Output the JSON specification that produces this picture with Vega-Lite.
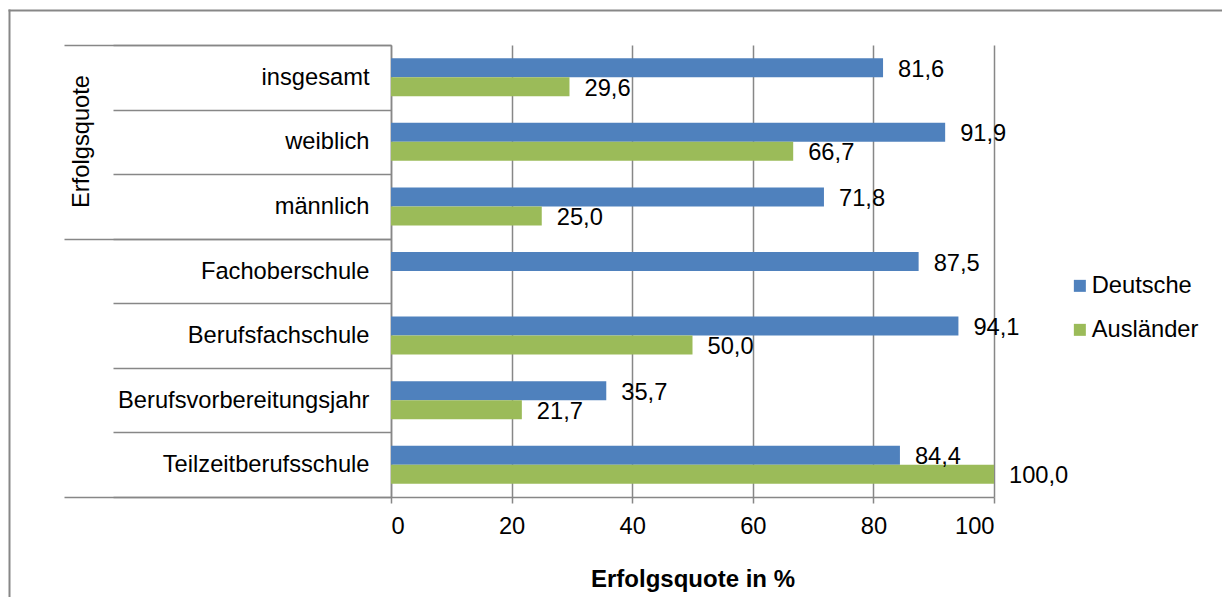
{
  "$schema": "https://vega.github.io/schema/vega-lite/v6.json",
  "width": 603,
  "height": 452,
  "autosize": "none",
  "padding": {"left": 391, "top": 45, "right": 228, "bottom": 100},
  "background": "white",
  "config": {
    "locale": {"number": {"decimal": ",", "thousands": ".", "grouping": [3], "currency": ["", " €"]}},
    "font": "Liberation Sans",
    "view": {"stroke": null}
  },
  "data": {
    "values": [
      {"Kategorie": "insgesamt", "Gruppe": "Deutsche", "Quote": 81.6},
      {"Kategorie": "insgesamt", "Gruppe": "Ausländer", "Quote": 29.6},
      {"Kategorie": "weiblich", "Gruppe": "Deutsche", "Quote": 91.9},
      {"Kategorie": "weiblich", "Gruppe": "Ausländer", "Quote": 66.7},
      {"Kategorie": "männlich", "Gruppe": "Deutsche", "Quote": 71.8},
      {"Kategorie": "männlich", "Gruppe": "Ausländer", "Quote": 25.0},
      {"Kategorie": "Fachoberschule", "Gruppe": "Deutsche", "Quote": 87.5},
      {"Kategorie": "Berufsfachschule", "Gruppe": "Deutsche", "Quote": 94.1},
      {"Kategorie": "Berufsfachschule", "Gruppe": "Ausländer", "Quote": 50.0},
      {"Kategorie": "Berufsvorbereitungsjahr", "Gruppe": "Deutsche", "Quote": 35.7},
      {"Kategorie": "Berufsvorbereitungsjahr", "Gruppe": "Ausländer", "Quote": 21.7},
      {"Kategorie": "Teilzeitberufsschule", "Gruppe": "Deutsche", "Quote": 84.4},
      {"Kategorie": "Teilzeitberufsschule", "Gruppe": "Ausländer", "Quote": 100.0}
    ]
  },
  "layer": [
    {
      "encoding": {
        "y": {
          "field": "Kategorie", "type": "nominal",
          "scale": {
            "domain": ["insgesamt", "weiblich", "männlich", "Fachoberschule", "Berufsfachschule", "Berufsvorbereitungsjahr", "Teilzeitberufsschule"],
            "paddingInner": 0, "paddingOuter": 0
          },
          "axis": {
            "orient": "left", "title": null, "grid": false,
            "tickBand": "extent", "tickSize": 278, "tickColor": "#878787", "tickWidth": 1.5,
            "domainColor": "#878787", "domainWidth": 1.5,
            "labelPadding": -256, "labelAlign": "right", "labelFontSize": 23.7, "labelColor": "black", "labelLimit": 500
          }
        },
        "yOffset": {
          "field": "Gruppe", "type": "nominal",
          "scale": {"domain": ["Deutsche", "Ausländer"], "paddingInner": 0, "paddingOuter": 0.7}
        },
        "x": {
          "field": "Quote", "type": "quantitative",
          "scale": {"domain": [0, 100], "nice": false},
          "axis": {
            "orient": "bottom", "values": [0, 20, 40, 60, 80, 100], "format": "d",
            "grid": true, "gridColor": "#878787", "gridWidth": 1.5,
            "tickColor": "#878787", "tickWidth": 1.5, "tickSize": 6,
            "domainColor": "#878787", "domainWidth": 1.5,
            "labelFontSize": 23.7, "labelColor": "black", "labelPadding": 11,
            "title": "Erfolgsquote in %", "titleFontSize": 24, "titleFontWeight": "bold", "titleColor": "black", "titlePadding": 30
          }
        }
      },
      "layer": [
        {
          "mark": {"type": "bar"},
          "encoding": {
            "color": {
              "field": "Gruppe", "type": "nominal",
              "scale": {"domain": ["Deutsche", "Ausländer"], "range": ["#4F81BD", "#9BBB59"]},
              "legend": {
                "title": null, "orient": "none", "legendX": 677, "legendY": 229,
                "symbolType": "square", "symbolSize": 144, "symbolStrokeWidth": 0,
                "labelFontSize": 23.7, "labelColor": "black", "labelOffset": 0, "rowPadding": 19
              }
            }
          }
        },
        {
          "mark": {"type": "text", "align": "left", "baseline": "middle", "dx": 15, "dy": 2, "fontSize": 23.7, "color": "black"},
          "encoding": {"text": {"field": "Quote", "type": "quantitative", "format": ".1f"}}
        }
      ]
    },
    {
      "mark": {"type": "point", "opacity": 0},
      "encoding": {
        "y": {
          "datum": 0, "type": "quantitative",
          "scale": {"domain": [0, 7], "nice": false},
          "axis": {
            "orient": "left", "values": [0, 4, 7], "tickSize": 327, "tickColor": "#878787", "tickWidth": 1.5,
            "labels": false, "domain": false, "grid": false,
            "title": "Erfolgsquote", "titleFontSize": 23.7, "titleFontWeight": "normal", "titleColor": "black",
            "titleAngle": -90, "titleX": -303, "titleY": 96, "titleBaseline": "alphabetic", "titleAlign": "center"
          }
        }
      }
    },
    {
      "mark": {"type": "point", "opacity": 0},
      "encoding": {
        "x": {
          "datum": 0, "type": "quantitative",
          "scale": {"domain": [0, 1], "range": [-383, 831]},
          "axis": {"orient": "top", "offset": 35, "ticks": false, "labels": false, "grid": false, "title": null, "domainColor": "#878787", "domainWidth": 2}
        },
        "y": {
          "datum": 0, "type": "quantitative",
          "scale": {"domain": [0, 1], "range": [600, -36]},
          "axis": {"orient": "left", "offset": 382, "ticks": false, "labels": false, "grid": false, "title": null, "domainColor": "#878787", "domainWidth": 2}
        }
      }
    }
  ],
  "resolve": {"scale": {"x": "independent", "y": "independent"}}
}
